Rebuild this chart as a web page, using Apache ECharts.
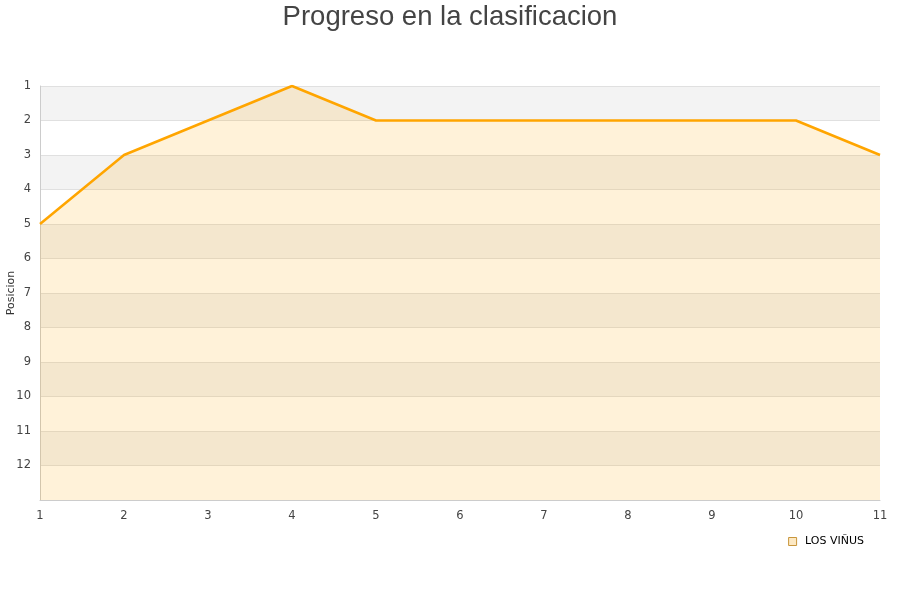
<!DOCTYPE html>
<html><head><meta charset="utf-8">
<script src="https://cdn.jsdelivr.net/npm/echarts@6/dist/echarts.min.js"></script>
<style>html,body{margin:0;padding:0;background:#fff}#c{width:900px;height:600px}</style>
</head><body><div id="c"></div>
<script>
const jornadas = [1,2,3,4,5,6,7,8,9,10,11];
const posiciones = [5,3,2,1,2,2,2,2,2,2,3];
const seriesName = 'LOS VIÑUS';
const titleText = 'Progreso en la clasificacion';
const yName = 'Posicion';

const chart = echarts.init(document.getElementById('c'));
chart.setOption({
  animation: false,
  title: { text: titleText, left: 'center', top: -2,
    textStyle: { fontFamily: 'Liberation Sans, Arial, sans-serif', fontSize: 27.5, fontWeight: 'normal', color: '#444' } },
  grid: { left: 40, right: 20, top: 86, bottom: 100, containLabel: false, outerBoundsMode: 'none' },
  legend: { data: [seriesName], right: 31, top: 531, icon: 'rect', itemWidth: 8, itemHeight: 8,
    formatter: n => '\u00a0' + n,
    itemStyle: { color: '#fde9c4', borderColor: '#c8963c', borderWidth: 1 },
    textStyle: { fontFamily: 'DejaVu Sans, sans-serif', fontSize: 11, color: '#000' } },
  xAxis: { type: 'value', min: 1, max: 11, interval: 1,
    axisLine: { show: true, lineStyle: { color: '#ccc' } },
    axisTick: { show: false },
    splitLine: { show: false },
    axisLabel: { fontFamily: 'DejaVu Sans, sans-serif', fontSize: 11.5, color: '#444', margin: 10 } },
  yAxis: { type: 'value', inverse: true, min: 1, max: 13, interval: 1,
    name: yName, nameLocation: 'middle', nameGap: 23, nameRotate: 90, nameMoveOverlap: false,
    nameTextStyle: { fontFamily: 'DejaVu Sans, sans-serif', fontSize: 11, color: '#333' },
    axisLine: { show: true, lineStyle: { color: '#ccc' } },
    axisTick: { show: false },
    splitLine: { show: true, lineStyle: { color: '#e0e0e0' } },
    splitArea: { show: true, areaStyle: { color: ['#f3f3f3', '#ffffff'] } },
    axisLabel: { fontFamily: 'DejaVu Sans, sans-serif', fontSize: 11.5, color: '#444', margin: 9,
      formatter: v => v === 13 ? '' : String(v) } },
  series: [{
    name: seriesName, type: 'line',
    data: jornadas.map((j, i) => [j, posiciones[i]]),
    showSymbol: false, symbol: 'none',
    lineStyle: { color: '#ffa500', width: 2.5 },
    itemStyle: { color: '#ffa500' },
    areaStyle: { color: 'rgba(255,165,0,0.21)', origin: 'end' }
  }]
});
</script></body></html>
